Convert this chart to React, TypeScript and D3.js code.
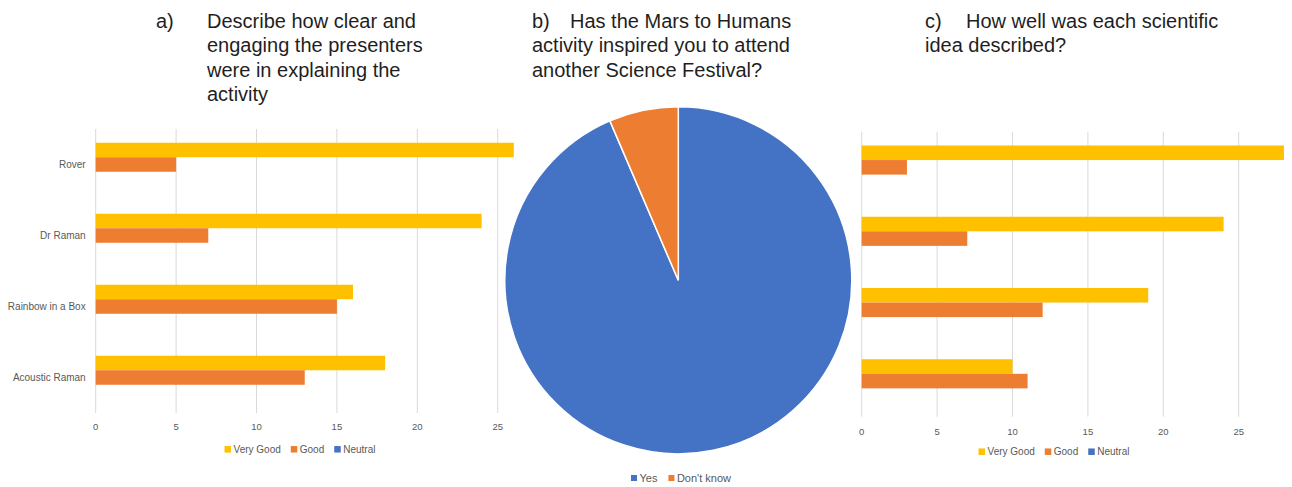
import * as d3 from "d3";
import React from "react";

// survey answers
const categories = ["Rover", "Dr Raman", "Rainbow in a Box", "Acoustic Raman"];
const seriesNames = ["Very Good", "Good", "Neutral"];

const presentersVeryGood = [26, 24, 16, 18];
const presentersGood = [5, 7, 15, 13];
const presentersNeutral = [0, 0, 0, 0];

const ideasVeryGood = [28, 24, 19, 10];
const ideasGood = [3, 7, 12, 11];
const ideasNeutral = [0, 0, 0, 0];

const xTicks = [0, 5, 10, 15, 20, 25, 30];

const pieLabels = ["Yes", "Don't know"];
const pieValues = [29, 2];

const colors = ["#FFC000", "#ED7D31", "#4472C4"];
const pieColors = ["#4472C4", "#ED7D31"];

const FONT = "'Liberation Sans', Arial, sans-serif";
const GREY = "#595959";

const ctx = typeof document !== "undefined" ? document.createElement("canvas").getContext("2d") : null;
function textWidth(t, size) {
    if (!ctx) return t.length * size * 0.5;
    ctx.font = `${size}px 'Liberation Sans'`;
    return ctx.measureText(t).width;
}

function Legend({ items, itemColors, cx, y, size = 10, box = 6.5, gap = 10 }) {
    const widths = items.map(t => box + 2.5 + textWidth(t, size));
    const total = d3.sum(widths) + gap * (items.length - 1);
    let cur = cx - total / 2;
    return (
        <g>
            {items.map((t, i) => {
                const x = cur;
                cur += widths[i] + gap;
                return (
                    <g key={t}>
                        <rect x={x} y={y - box / 2} width={box} height={box} fill={itemColors[i]} />
                        <text x={x + box + 2.5} y={y} dy="0.35em" fontSize={size} fill={GREY} fontFamily={FONT}>{t}</text>
                    </g>
                );
            })}
        </g>
    );
}

function BarPanel({ id, series, x0, x30, top, bottom, tickY, legendY, legendCx, showLabels, clipRight }) {
    const x = d3.scaleLinear().domain([0, 30]).range([x0, x30]);
    const y = d3.scaleBand().domain(categories).range([top, bottom]).paddingInner(0.387).paddingOuter(0.1935);
    const inner = d3.scaleBand().domain(seriesNames).range([0, y.bandwidth()]);

    return (
        <g>
            <defs>
                <clipPath id={id}>
                    <rect x={0} y={0} width={clipRight} height={487} />
                </clipPath>
            </defs>
            <g clipPath={`url(#${id})`}>
                {xTicks.map(t => (
                    <line key={t} x1={x(t)} x2={x(t)} y1={top} y2={bottom} stroke="#d9d9d9" strokeWidth={1} />
                ))}
                {categories.map((c, i) => (
                    <g key={c} transform={`translate(0,${y(c)})`}>
                        {seriesNames.map((s, j) => (
                            <rect
                                key={s}
                                x={x(0)}
                                y={inner(s)}
                                width={x(series[j][i]) - x(0)}
                                height={inner.bandwidth()}
                                fill={colors[j]}
                            />
                        ))}
                    </g>
                ))}
            </g>
            {/* tick labels hidden where the panel is cut off */}
            {xTicks.filter(t => x(t) + 8 < clipRight).map(t => (
                <text key={t} x={x(t)} y={tickY} dy="0.35em" textAnchor="middle" fontSize={9.5} fill={GREY} fontFamily={FONT}>{t}</text>
            ))}
            {showLabels && categories.map(c => (
                <text key={c} x={x0 - 10} y={y(c) + y.bandwidth() / 2} dy="0.35em" textAnchor="end" fontSize={10} fill={GREY} fontFamily={FONT}>{c}</text>
            ))}
            <Legend items={seriesNames} itemColors={colors} cx={legendCx} y={legendY} />
        </g>
    );
}

function Title({ label, labelX, firstX, lineX, lines }) {
    return (
        <g fontFamily={FONT} fontSize={20} fill="#1f1f1f">
            <text x={labelX} y={27.5}>{label}</text>
            {lines.map((l, i) => (
                <text key={i} x={i === 0 ? firstX : lineX} y={27.5 + i * 24.5}>{l}</text>
            ))}
        </g>
    );
}

export default function App() {
    const width = 1292;
    const height = 487;

    const pie = d3.pie().sort(null).value(d => d)(pieValues);
    const arc = d3.arc().innerRadius(0).outerRadius(173.5);
    const cx = 678.3;
    const cy = 280.3;

    return (
        <svg width={width} height={height} style={{ position: "absolute", left: 0, top: 0, background: "#fff" }}>
            <rect width={width} height={height} fill="#fff" />

            <BarPanel
                id="clipA"
                series={[presentersVeryGood, presentersGood, presentersNeutral]}
                x0={95.7}
                x30={578.1}
                top={129}
                bottom={413}
                tickY={426.7}
                legendY={449.3}
                legendCx={300}
                showLabels
                clipRight={516}
            />

            <BarPanel
                id="clipC"
                series={[ideasVeryGood, ideasGood, ideasNeutral]}
                x0={861.7}
                x30={1314.1}
                top={131.7}
                bottom={416.7}
                tickY={431.7}
                legendY={451.7}
                legendCx={1054}
                showLabels={false}
                clipRight={1292}
            />

            <g transform={`translate(${cx},${cy})`}>
                {pie.map((p, i) => (
                    <path key={i} d={arc(p)} fill={pieColors[i]} stroke="#fff" strokeWidth={1.5} />
                ))}
            </g>
            <Legend items={pieLabels} itemColors={pieColors} cx={681} y={478} size={11} box={6} gap={11} />

            <Title label="a)" labelX={156} firstX={207} lineX={207}
                lines={["Describe how clear and", "engaging the presenters", "were in explaining the", "activity"]} />
            <Title label="b)" labelX={532} firstX={570} lineX={532}
                lines={["Has the Mars to Humans", "activity inspired you to attend", "another Science Festival?"]} />
            <Title label="c)" labelX={925} firstX={966} lineX={925}
                lines={["How well was each scientific", "idea described?"]} />
        </svg>
    );
}
